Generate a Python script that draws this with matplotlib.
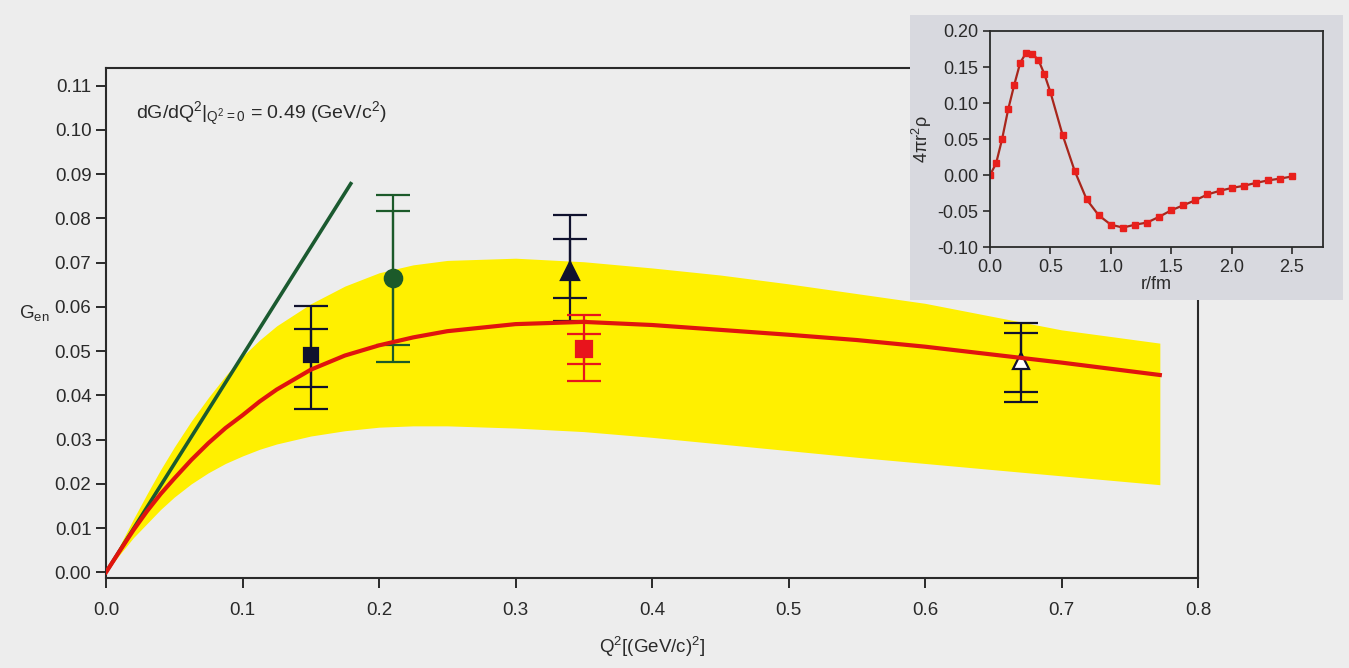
import matplotlib
matplotlib.use("Agg")
import matplotlib.pyplot as plt
from matplotlib.patches import Rectangle

plt.rcParams['font.family'] = ['Liberation Sans', 'DejaVu Sans']
plt.rcParams['mathtext.default'] = 'regular'

# --- main panel data ---
band_q = [0, 0.01, 0.02, 0.03, 0.04, 0.05, 0.0625, 0.075, 0.0875, 0.10, 0.1125, 0.125,
          0.15, 0.175, 0.20, 0.225, 0.25, 0.30, 0.35, 0.40, 0.45, 0.50, 0.55, 0.60, 0.65,
          0.70, 0.772]
band_hi = [0, 0.0060, 0.0120, 0.0177, 0.0232, 0.0283, 0.0342, 0.0395, 0.0444, 0.0488,
           0.0525, 0.0557, 0.0607, 0.0647, 0.0677, 0.0695, 0.0705, 0.0710, 0.0702, 0.0688,
           0.0672, 0.0652, 0.0630, 0.0608, 0.0578, 0.0548, 0.0518]
band_lo = [0, 0.0040, 0.0078, 0.0110, 0.0142, 0.0170, 0.0200, 0.0225, 0.0246, 0.0263,
           0.0278, 0.0290, 0.0308, 0.0320, 0.0328, 0.0331, 0.0331, 0.0326, 0.0318, 0.0305,
           0.0290, 0.0275, 0.0260, 0.0246, 0.0232, 0.0218, 0.0198]
fit_g = [0, 0.0048, 0.0095, 0.0138, 0.0177, 0.0212, 0.0254, 0.0292, 0.0326, 0.0355,
         0.0386, 0.0413, 0.0458, 0.0490, 0.0513, 0.0531, 0.0545, 0.0561, 0.0566, 0.0559,
         0.0548, 0.0537, 0.0525, 0.0510, 0.0492, 0.0474, 0.0446]

slope_q = [0, 0.18]
slope_g = [0, 0.0882]

pts_q = [0.150, 0.210, 0.340, 0.350, 0.670]
pts_g = [0.0491, 0.0666, 0.0682, 0.0505, 0.0478]
stat_lo = [0.0419, 0.0513, 0.0619, 0.0471, 0.0408]
stat_hi = [0.0549, 0.0816, 0.0753, 0.0538, 0.0540]
tot_lo = [0.0368, 0.0475, 0.0567, 0.0433, 0.0386]
tot_hi = [0.0603, 0.0852, 0.0807, 0.0581, 0.0563]
pts_marker = ['s', 'o', '^', 's', '^']
pts_size = [10, 12.5, 13, 11, 12]
pts_face = ['#10122e', '#1c5a2a', '#10122e', '#e8141c', 'white']
pts_line = ['#10122e', '#1c5a2a', '#10122e', '#e8141c', '#10122e']

# --- inset data ---
r_fm = [0, 0.05, 0.1, 0.15, 0.2, 0.25, 0.3, 0.35, 0.4, 0.45, 0.5, 0.6, 0.7, 0.8, 0.9, 1.0,
        1.1, 1.2, 1.3, 1.4, 1.5, 1.6, 1.7, 1.8, 1.9, 2.0, 2.1, 2.2, 2.3, 2.4, 2.5]
rho = [0.0, 0.016, 0.050, 0.091, 0.125, 0.156, 0.170, 0.168, 0.160, 0.140, 0.115, 0.056,
       0.006, -0.034, -0.056, -0.069, -0.073, -0.069, -0.066, -0.058, -0.049, -0.042,
       -0.035, -0.027, -0.022, -0.018, -0.015, -0.011, -0.0075, -0.005, -0.002]

bg = '#ededed'
ink = '#2a2a2a'

fig = plt.figure(figsize=(13.49, 6.68), dpi=100, facecolor=bg)
ax = fig.add_axes([0.0786, 0.1347, 0.8095, 0.7635])
ax.set_facecolor(bg)

ax.fill_between(band_q, band_lo, band_hi, color='#fff000', lw=0, zorder=1)
ax.plot(slope_q, slope_g, color='#1b5a30', lw=2.6, solid_capstyle='butt', zorder=3)

for i in range(len(pts_q)):
    g = pts_g[i]
    c = pts_line[i]
    ax.errorbar(pts_q[i], g, yerr=[[g - tot_lo[i]], [tot_hi[i] - g]], fmt='none',
                ecolor=c, elinewidth=1.6, capsize=12, capthick=1.6, zorder=4)
    ax.errorbar(pts_q[i], g, yerr=[[g - stat_lo[i]], [stat_hi[i] - g]], fmt='none',
                ecolor=c, elinewidth=1.6, capsize=12, capthick=1.6, zorder=4)
    ax.plot(pts_q[i], g, marker=pts_marker[i], ms=pts_size[i], mfc=pts_face[i],
            mec=pts_line[i], mew=1.6, ls='none', zorder=5 if i != 4 else 4)

ax.plot(band_q, fit_g, color='#e0140e', lw=3, zorder=4.5)

ax.set_xlim(0, 0.8)
ax.set_ylim(-0.0013, 0.114)
ax.set_xticks([0, 0.1, 0.2, 0.3, 0.4, 0.5, 0.6, 0.7, 0.8])
ax.set_xticklabels(['0.0', '0.1', '0.2', '0.3', '0.4', '0.5', '0.6', '0.7', '0.8'])
ax.set_yticks([i / 100 for i in range(12)])
ax.set_yticklabels([f'{i / 100:.2f}' for i in range(12)])
for s in ax.spines.values():
    s.set_color(ink)
    s.set_linewidth(1.5)
ax.tick_params(colors=ink, labelsize=13.5, width=1.4, length=7)
ax.tick_params(axis='x', pad=10)
ax.set_xlabel('Q$^2$[(GeV/c)$^2$]', fontsize=13.5, color=ink, labelpad=12)
ax.set_ylabel('G$_{en}$', fontsize=13.5, color=ink, rotation=0, ha='right', va='center')
ax.yaxis.set_label_coords(-0.052, 0.52)
ax.text(0.022, 0.1035, 'dG/dQ$^2$|$_{Q^2 = 0}$ = 0.49 (GeV/c$^2$)', fontsize=14,
        color=ink, va='center', ha='left')

# inset panel
fig.patches.append(Rectangle((910 / 1349, 1 - 300 / 668), 433 / 1349, 285 / 668,
                             transform=fig.transFigure, facecolor='#d8d9df',
                             edgecolor='none', zorder=2))
ins = fig.add_axes([0.7339, 0.6302, 0.2469, 0.3234])
ins.set_zorder(3)
ins.set_facecolor('#d8d9df')
ins.plot(r_fm, rho, color='#a8261c', lw=1.6, marker='s', ms=4.5, mfc='#e8201c',
         mec='#e8201c')
ins.set_xlim(0, 2.757)
ins.set_ylim(-0.1, 0.2)
ins.set_xticks([0, 0.5, 1.0, 1.5, 2.0, 2.5])
ins.set_xticklabels(['0.0', '0.5', '1.0', '1.5', '2.0', '2.5'])
ins.set_yticks([-0.1, -0.05, 0, 0.05, 0.1, 0.15, 0.2])
ins.set_yticklabels(['-0.10', '-0.05', '0.00', '0.05', '0.10', '0.15', '0.20'])
for s in ins.spines.values():
    s.set_color(ink)
    s.set_linewidth(1.3)
ins.tick_params(colors=ink, labelsize=13, width=1.2, length=5)
ins.set_xlabel('r/fm', fontsize=13, color=ink, labelpad=0)
ins.set_ylabel(r'4$\pi$r$^2\rho$', fontsize=13, color=ink, labelpad=2)

fig.savefig('out.png', dpi=100, facecolor=bg)
